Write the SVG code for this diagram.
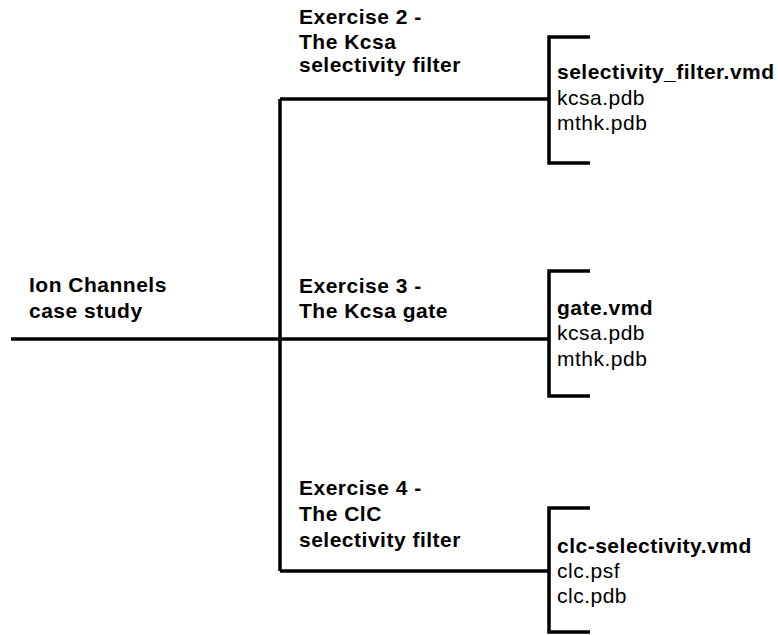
<svg xmlns="http://www.w3.org/2000/svg" width="778" height="635" viewBox="0 0 778 635">
<style>
text{font-family:"Liberation Sans",Arial,Helvetica,sans-serif;font-size:21px;letter-spacing:0.5px;fill:#000}
.b{font-weight:bold}
.ln{stroke:#000;stroke-width:3.5;fill:none;stroke-linecap:butt;stroke-linejoin:miter}
</style>
<rect width="778" height="635" fill="#fff"/>
<g id="connectors">
<path class="ln" d="M11 339H549"/>
<path class="ln" d="M280 99V571"/>
<path class="ln" d="M280 99H549"/>
<path class="ln" d="M280 571H549"/>
</g>
<g id="root">
<text class="b" x="29" y="292">Ion Channels</text>
<text class="b" x="29" y="318">case study</text>
</g>
<g id="ex2">
<text class="b" x="299" y="24">Exercise 2 -</text>
<text class="b" x="299" y="49">The Kcsa</text>
<text class="b" x="299" y="72">selectivity filter</text>
</g>
<g id="ex3">
<text class="b" x="299" y="292.5">Exercise 3 -</text>
<text class="b" x="299" y="318">The Kcsa gate</text>
</g>
<g id="ex4">
<text class="b" x="299" y="495">Exercise 4 -</text>
<text class="b" x="299" y="521">The ClC</text>
<text class="b" x="299" y="547">selectivity filter</text>
</g>
<g id="files2">
<path class="ln" d="M590 37H549V163H590"/>
<text class="b" x="557" y="79">selectivity_filter.vmd</text>
<text x="557" y="105">kcsa.pdb</text>
<text x="557" y="130">mthk.pdb</text>
</g>
<g id="files3">
<path class="ln" d="M590 271H549V396H590"/>
<text class="b" x="557" y="315">gate.vmd</text>
<text x="557" y="340">kcsa.pdb</text>
<text x="557" y="366">mthk.pdb</text>
</g>
<g id="files4">
<path class="ln" d="M590 508H549V632H590"/>
<text class="b" x="557" y="553">clc-selectivity.vmd</text>
<text x="557" y="578">clc.psf</text>
<text x="557" y="603">clc.pdb</text>
</g>
</svg>
